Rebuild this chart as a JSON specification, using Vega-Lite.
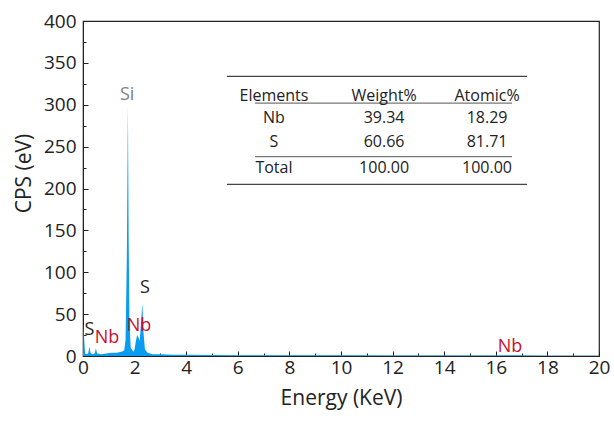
{
  "$schema": "https://vega.github.io/schema/vega-lite/v6.json",
  "autosize": {"type": "none"},
  "width": 516,
  "height": 335,
  "padding": {"left": 83, "top": 21, "right": 15, "bottom": 65},
  "background": "white",
  "config": {
    "view": {"stroke": "#222", "strokeWidth": 1.2},
    "font": "Open Sans",
    "axis": {"grid": false, "domainColor": "#222", "tickColor": "#222", "labelColor": "#222", "titleColor": "#222", "labelFont": "Open Sans", "titleFont": "Open Sans", "titleFontWeight": "normal", "labelFontSize": 19, "titleFontSize": 21}
  },
  "datasets": {
    "spectrum": [
      {"E": 0, "cps": 0}, {"E": 0.02, "cps": 38}, {"E": 0.05, "cps": 18}, {"E": 0.08, "cps": 3},
      {"E": 0.12, "cps": 2}, {"E": 0.2, "cps": 3}, {"E": 0.25, "cps": 11}, {"E": 0.29, "cps": 4},
      {"E": 0.35, "cps": 2}, {"E": 0.45, "cps": 3}, {"E": 0.5, "cps": 9}, {"E": 0.55, "cps": 3},
      {"E": 0.7, "cps": 2}, {"E": 0.9, "cps": 3}, {"E": 1.1, "cps": 4}, {"E": 1.3, "cps": 4},
      {"E": 1.5, "cps": 5}, {"E": 1.6, "cps": 7}, {"E": 1.65, "cps": 20}, {"E": 1.7, "cps": 120},
      {"E": 1.74, "cps": 298}, {"E": 1.77, "cps": 140}, {"E": 1.8, "cps": 40}, {"E": 1.85, "cps": 10},
      {"E": 1.95, "cps": 5}, {"E": 2.0, "cps": 8}, {"E": 2.05, "cps": 18}, {"E": 2.1, "cps": 25},
      {"E": 2.15, "cps": 22}, {"E": 2.2, "cps": 18}, {"E": 2.25, "cps": 40}, {"E": 2.3, "cps": 63},
      {"E": 2.34, "cps": 30}, {"E": 2.4, "cps": 8}, {"E": 2.5, "cps": 4}, {"E": 2.7, "cps": 2},
      {"E": 3.0, "cps": 2}, {"E": 3.5, "cps": 1.5}, {"E": 4, "cps": 1.5}, {"E": 5, "cps": 1.2},
      {"E": 6, "cps": 1}, {"E": 8, "cps": 1}, {"E": 10, "cps": 0.8}, {"E": 12, "cps": 0.6},
      {"E": 14, "cps": 0.5}, {"E": 16, "cps": 0.5}, {"E": 16.6, "cps": 1}, {"E": 18, "cps": 0.4},
      {"E": 20, "cps": 0.3}
    ],
    "peaks": [
      {"E": 1.71, "cps": 312, "label": "Si", "kind": "Si"},
      {"E": 2.4, "cps": 81, "label": "S", "kind": "S"},
      {"E": 0.25, "cps": 31, "label": "S", "kind": "S"},
      {"E": 0.93, "cps": 22, "label": "Nb", "kind": "Nb"},
      {"E": 2.17, "cps": 36, "label": "Nb", "kind": "Nb"},
      {"E": 16.55, "cps": 11, "label": "Nb", "kind": "Nb"}
    ],
    "cells": [
      {"col": 7.4, "row": 311, "text": "Elements"},
      {"col": 11.67, "row": 311, "text": "Weight%"},
      {"col": 15.66, "row": 311, "text": "Atomic%"},
      {"col": 7.4, "row": 284, "text": "Nb"},
      {"col": 11.67, "row": 284, "text": "39.34"},
      {"col": 15.66, "row": 284, "text": "18.29"},
      {"col": 7.4, "row": 256, "text": "S"},
      {"col": 11.67, "row": 256, "text": "60.66"},
      {"col": 15.66, "row": 256, "text": "81.71"},
      {"col": 7.4, "row": 224, "text": "Total"},
      {"col": 11.67, "row": 224, "text": "100.00"},
      {"col": 15.66, "row": 224, "text": "100.00"}
    ],
    "lines": [
      {"x1": 5.58, "x2": 17.21, "y": 334, "tone": "outer"},
      {"x1": 6.67, "x2": 16.63, "y": 302, "tone": "inner"},
      {"x1": 6.67, "x2": 16.63, "y": 238, "tone": "inner"},
      {"x1": 5.58, "x2": 17.21, "y": 205, "tone": "outer"}
    ]
  },
  "layer": [
    {
      "data": {"name": "spectrum"},
      "mark": {"type": "area", "color": "#0a9cf0", "interpolate": "linear"},
      "encoding": {
        "x": {"field": "E", "type": "quantitative", "scale": {"domain": [0, 20], "nice": false},
          "axis": {"orient": "bottom", "values": [0, 2, 4, 6, 8, 10, 12, 14, 16, 18, 20], "tickSize": -5, "labelPadding": 7, "title": "Energy (KeV)", "titlePadding": 10, "labelFlush": false}},
        "y": {"field": "cps", "type": "quantitative", "scale": {"domain": [0, 400], "nice": false},
          "axis": {"orient": "left", "values": [0, 50, 100, 150, 200, 250, 300, 350, 400], "tickSize": -5, "labelPadding": 12, "title": "CPS (eV)", "titleX": -59, "titleY": 152, "titleBaseline": "middle", "titleAlign": "center", "labelFlush": false}}
      }
    },
    {
      "data": {"name": "spectrum"},
      "mark": {"type": "line", "opacity": 0},
      "encoding": {
        "x": {"field": "E", "type": "quantitative",
          "axis": {"orient": "bottom", "values": [1, 3, 5, 7, 9, 11, 13, 15, 17, 19], "tickSize": -3, "labels": false, "domain": false, "title": null}},
        "y": {"field": "cps", "type": "quantitative",
          "axis": {"orient": "left", "values": [25, 75, 125, 175, 225, 275, 325, 375], "tickSize": -3, "labels": false, "domain": false, "title": null}}
      }
    },
    {
      "data": {"name": "lines"},
      "mark": {"type": "rule", "strokeWidth": 1.2},
      "encoding": {
        "x": {"field": "x1", "type": "quantitative", "axis": null},
        "x2": {"field": "x2"},
        "y": {"field": "y", "type": "quantitative", "axis": null},
        "color": {"field": "tone", "type": "nominal", "scale": {"domain": ["outer", "inner"], "range": ["#444444", "#777777"]}, "legend": null}
      }
    },
    {
      "data": {"name": "cells"},
      "mark": {"type": "text", "fontSize": 16, "color": "#222", "align": "center", "baseline": "middle"},
      "encoding": {
        "x": {"field": "col", "type": "quantitative", "axis": null},
        "y": {"field": "row", "type": "quantitative", "axis": null},
        "text": {"field": "text"}
      }
    },
    {
      "data": {"name": "peaks"},
      "mark": {"type": "text", "fontSize": 18, "align": "center", "baseline": "middle"},
      "encoding": {
        "x": {"field": "E", "type": "quantitative", "axis": null},
        "y": {"field": "cps", "type": "quantitative", "axis": null},
        "text": {"field": "label"},
        "color": {"field": "kind", "type": "nominal", "scale": {"domain": ["Si", "S", "Nb"], "range": ["#808080", "#222222", "#c8102e"]}, "legend": null}
      }
    }
  ],
  "resolve": {"axis": {"x": "independent", "y": "independent"}, "scale": {"color": "independent"}}
}
